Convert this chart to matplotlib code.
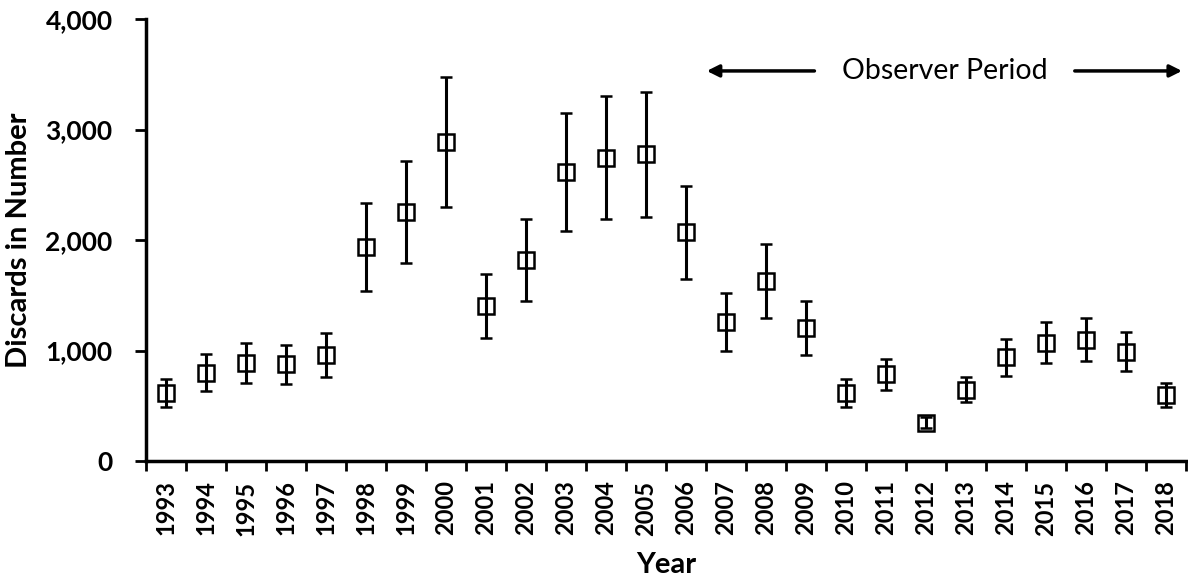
import matplotlib.pyplot as plt
import numpy as np

plt.rcParams['font.family'] = ['Lato', 'DejaVu Sans']

years = [str(y) for y in range(1993, 2019)]
discards = [618, 799, 884, 875, 959, 1939, 2253, 2884, 1403, 1819, 2618, 2745, 2775,
            2070, 1261, 1629, 1207, 612, 787, 347, 643, 938, 1071, 1095, 989, 597]
upper = [745, 966, 1065, 1050, 1161, 2332, 2715, 3472, 1690, 2190, 3152, 3306, 3342,
         2492, 1517, 1964, 1451, 739, 920, 400, 757, 1107, 1261, 1291, 1165, 703]
lower = [491, 636, 703, 694, 763, 1541, 1795, 2299, 1116, 1451, 2084, 2187, 2211,
         1647, 998, 1297, 957, 486, 643, 300, 531, 772, 884, 902, 814, 491]

disc = np.array(discards)
err = [disc - np.array(lower), np.array(upper) - disc]
x = np.arange(len(years))

fig = plt.figure(figsize=(11.88, 5.88), dpi=100)
ax = fig.add_axes([146 / 1188, 127 / 588, 1040 / 1188, 442 / 588])

ax.errorbar(x, disc, yerr=err, fmt='s', color='black', mfc='none', mec='black',
            ms=11, mew=1.8, elinewidth=2.2, capsize=4, capthick=2.2)

ax.set_xlim(-0.5, len(years) - 0.5)
ax.set_ylim(0, 4000)
ax.set_yticks([0, 1000, 2000, 3000, 4000])
ax.set_yticklabels(['0', '1,000', '2,000', '3,000', '4,000'], fontsize=19, fontweight='bold')
ax.set_xticks(x)
ax.set_xticklabels(years, rotation=90, fontsize=17, fontweight='bold')
ax.set_xticks(np.arange(-0.5, len(years)), minor=True)
ax.tick_params(axis='x', which='major', length=0, pad=14)
ax.tick_params(axis='x', which='minor', length=7, width=2)
ax.tick_params(axis='y', length=8, width=2, pad=16)

for s in ['top', 'right']:
    ax.spines[s].set_visible(False)
for s in ['left', 'bottom']:
    ax.spines[s].set_linewidth(2.5)

ax.set_ylabel('Discards in Number', fontsize=21, fontweight='bold', labelpad=10)
ax.set_xlabel('Year', fontsize=21, fontweight='bold', labelpad=12)

# observer period annotation
ax.text(19.46, 3530, 'Observer Period', fontsize=20.5, ha='center', va='center')
ax.annotate('', xy=(13.45, 3530), xytext=(16.28, 3530),
            arrowprops=dict(arrowstyle='-|>', color='black', lw=2.5, mutation_scale=18))
ax.annotate('', xy=(25.47, 3530), xytext=(22.65, 3530),
            arrowprops=dict(arrowstyle='-|>', color='black', lw=2.5, mutation_scale=18))

fig.savefig('out.png', dpi=100)
